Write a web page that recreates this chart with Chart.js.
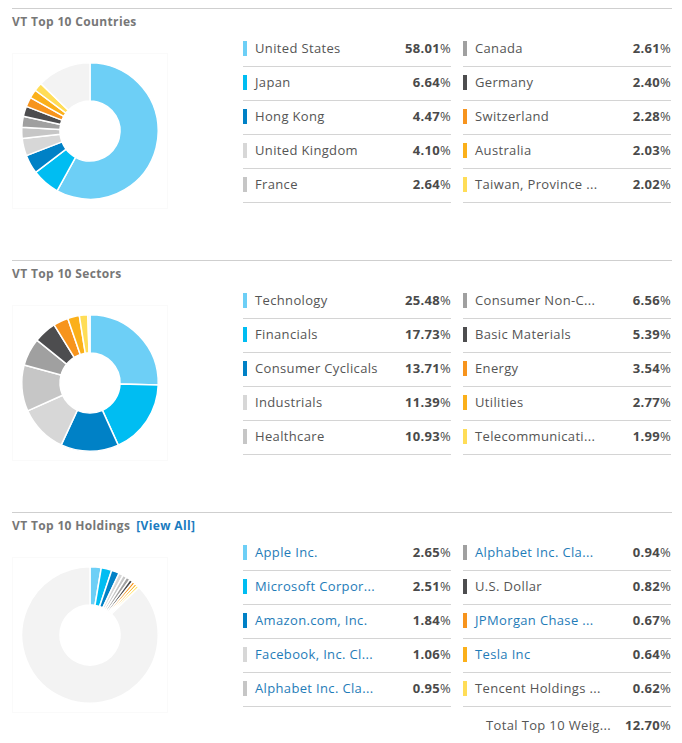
<!DOCTYPE html>
<html>
<head>
<meta charset="utf-8">
<script src="https://cdn.jsdelivr.net/npm/chart.js@4/dist/chart.umd.min.js"></script>
<style>
  body { margin: 0; background: #fff; font-family: "Open Sans", sans-serif; }
  .section { position: relative; width: 682px; height: 252px; }
  .rule { position: absolute; left: 12px; top: 8px; width: 660px; height: 1px; background: #cfcfcf; }
  .title { position: absolute; left: 12px; top: 13px; font-size: 12px; font-weight: 700; color: #777; white-space: nowrap; letter-spacing: 0.35px; }
  .title a { color: #1a7bbf; margin-left: 6px; text-decoration: none; }
  .chartbox { position: absolute; left: 12px; top: 53px; width: 154px; height: 154px; border: 1px solid #fafafa; }
  .legend { position: absolute; top: 33px; width: 208px; }
  .legend.left { left: 243px; }
  .legend.right { left: 463px; }
  .row { position: relative; height: 33px; border-bottom: 1px solid #d4d4d4; }
  .mark { position: absolute; left: 0; top: 8px; width: 4px; height: 15px; }
  .label { position: absolute; left: 12px; top: 6px; font-size: 13px; color: #555; white-space: nowrap; letter-spacing: 0.35px; }
  .label.link { color: #1f7cb8; }
  .pct { position: absolute; right: 0; top: 6px; font-size: 13px; font-weight: 700; color: #4a4a4a; letter-spacing: 0.3px; }
  .pct span { font-weight: 400; }
  .total { position: absolute; left: 463px; top: 212px; width: 208px; height: 20px; }
  .total .label { left: auto; right: 60px; top: 0; }
  .total .pct { top: 0; }
</style>
</head>
<body>
<div id="root"></div>
<script>
const sliceColors = ['#6dcff6', '#00bdf2', '#0081c6', '#d7d7d7', '#c6c6c6', '#a0a0a0', '#4d4d4f', '#f7941d', '#fbb01a', '#ffdd57'];
const otherColor = '#f3f3f3';

const countryLabels = ['United States', 'Japan', 'Hong Kong', 'United Kingdom', 'France', 'Canada', 'Germany', 'Switzerland', 'Australia', 'Taiwan, Province ...'];
const countryValues = [58.01, 6.64, 4.47, 4.10, 2.64, 2.61, 2.40, 2.28, 2.03, 2.02];
const countryOther = 12.80;

const sectorLabels = ['Technology', 'Financials', 'Consumer Cyclicals', 'Industrials', 'Healthcare', 'Consumer Non-C...', 'Basic Materials', 'Energy', 'Utilities', 'Telecommunicati...'];
const sectorValues = [25.48, 17.73, 13.71, 11.39, 10.93, 6.56, 5.39, 3.54, 2.77, 1.99];
const sectorOther = 0.51;

const holdingLabels = ['Apple Inc.', 'Microsoft Corpor...', 'Amazon.com, Inc.', 'Facebook, Inc. Cl...', 'Alphabet Inc. Cla...', 'Alphabet Inc. Cla...', 'U.S. Dollar', 'JPMorgan Chase ...', 'Tesla Inc', 'Tencent Holdings ...'];
const holdingValues = [2.65, 2.51, 1.84, 1.06, 0.95, 0.94, 0.82, 0.67, 0.64, 0.62];
const holdingLinks = [true, true, true, true, true, true, false, true, true, false];
const holdingOther = 87.30;
const holdingTotalLabel = 'Total Top 10 Weig...';
const holdingTotal = '12.70';

const sections = [
  { title: 'VT Top 10 Countries', labels: countryLabels, values: countryValues, other: countryOther },
  { title: 'VT Top 10 Sectors', labels: sectorLabels, values: sectorValues, other: sectorOther },
  { title: 'VT Top 10 Holdings', labels: holdingLabels, values: holdingValues, other: holdingOther, links: holdingLinks, viewAll: true }
];

const root = document.getElementById('root');

sections.forEach((sec, si) => {
  const el = document.createElement('div');
  el.className = 'section';
  let html = '<div class="rule"></div>';
  html += '<div class="title">' + sec.title + (sec.viewAll ? '<a>[View All]</a>' : '') + '</div>';
  html += '<div class="chartbox"><canvas id="c' + si + '" width="154" height="154"></canvas></div>';
  ['left', 'right'].forEach((side, col) => {
    html += '<div class="legend ' + side + '">';
    for (let i = col * 5; i < col * 5 + 5; i++) {
      const link = sec.links && sec.links[i] ? ' link' : '';
      html += '<div class="row"><div class="mark" style="background:' + sliceColors[i] + '"></div>' +
        '<div class="label' + link + '">' + sec.labels[i] + '</div>' +
        '<div class="pct">' + sec.values[i].toFixed(2) + '<span>%</span></div></div>';
    }
    html += '</div>';
  });
  if (sec.viewAll) {
    html += '<div class="total"><div class="label">' + holdingTotalLabel + '</div><div class="pct">' + holdingTotal + '<span>%</span></div></div>';
  }
  el.innerHTML = html;
  root.appendChild(el);

  const ctx = document.getElementById('c' + si).getContext('2d');
  new Chart(ctx, {
    type: 'doughnut',
    data: {
      labels: sec.labels.concat(['Other']),
      datasets: [{
        data: sec.values.concat([sec.other]),
        backgroundColor: sliceColors.concat([otherColor]),
        borderColor: '#ffffff',
        borderWidth: 1.5
      }]
    },
    options: {
      responsive: false,
      animation: false,
      cutout: '44%',
      layout: { padding: 8 },
      events: [],
      plugins: { legend: { display: false }, tooltip: { enabled: false } }
    }
  });
});
</script>
</body>
</html>
